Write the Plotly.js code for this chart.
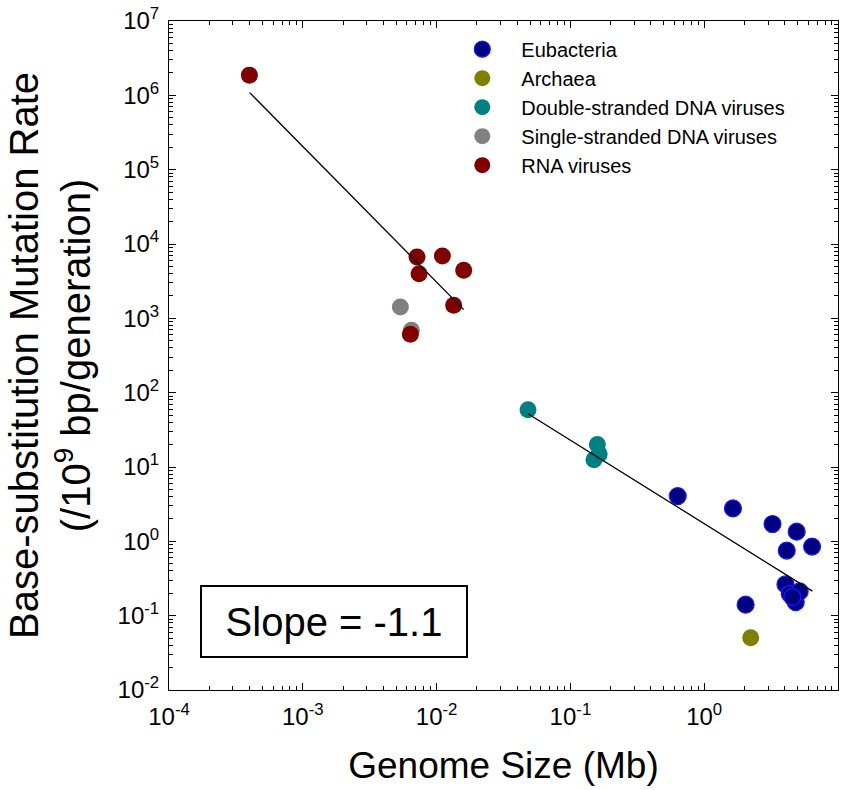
<!DOCTYPE html>
<html>
<head>
<meta charset="utf-8">
<script src="https://cdn.plot.ly/plotly-3.0.1.min.js"></script>
<style>
html,body{margin:0;padding:0;background:#fff;}
#chart{width:856px;height:790px;}
</style>
</head>
<body>
<div id="chart"></div>
<script>
// ---- Data (Genome size in Mb, mutation rate per 10^9 bp per generation) ----
const eubacteriaX = [0.634, 1.64, 3.24, 4.91, 6.40, 4.14, 2.04, 4.05, 4.36, 4.83, 5.17, 4.56];
const eubacteriaY = [4.06, 2.77, 1.71, 1.35, 0.85, 0.75, 0.1406, 0.2636, 0.197, 0.152, 0.212, 0.178];

const archaeaX = [2.226];
const archaeaY = [0.0505];

const dsDNAX = [0.0482, 0.159, 0.164, 0.150];
const dsDNAY = [59, 20.1, 14.8, 12.5];

const ssDNAX = [0.00536, 0.00648];
const ssDNAY = [1418, 689];

const rnaX = [0.000399, 0.00714, 0.01105, 0.00739, 0.01594, 0.01342, 0.00637];
const rnaY = [1.87e6, 6680, 6890, 3990, 4420, 1495, 609];

// regression lines (end points)
const fitRnaX = [0.000401, 0.01594];
const fitRnaY = [1.088e6, 1309];
const fitDnaX = [0.0482, 6.44];
const fitDnaY = [52.1, 0.2138];

const seriesNames = ["Eubacteria", "Archaea", "Double-stranded DNA viruses", "Single-stranded DNA viruses", "RNA viruses"];

const xTickVals = [1e-4, 1e-3, 1e-2, 1e-1, 1, 10];
const xTickText = ["10<sup>-4</sup>", "10<sup>-3</sup>", "10<sup>-2</sup>", "10<sup>-1</sup>", "10<sup>0</sup>", "10<sup>1</sup>"];
const yTickVals = [1e-2, 1e-1, 1, 10, 1e2, 1e3, 1e4, 1e5, 1e6, 1e7];
const yTickText = ["10<sup>-2</sup>", "10<sup>-1</sup>", "10<sup>0</sup>", "10<sup>1</sup>", "10<sup>2</sup>", "10<sup>3</sup>", "10<sup>4</sup>", "10<sup>5</sup>", "10<sup>6</sup>", "10<sup>7</sup>"];

// minor tick positions (2..9 x each decade)
function minorTicks(lo, hi) {
  const out = [];
  for (let e = lo; e < hi; e++) {
    for (let m = 2; m <= 9; m++) out.push(m * Math.pow(10, e));
  }
  return out;
}

const FONT = "Arial, 'Liberation Sans', Helvetica, sans-serif";
const MS = 17;

function pts(x, y, name, color, lineColor, lineWidth) {
  return {
    type: "scatter", mode: "markers", x: x, y: y, name: name,
    marker: {size: MS, color: color, line: {color: lineColor, width: lineWidth}},
    cliponaxis: false
  };
}

const traces = [
  pts(eubacteriaX, eubacteriaY, seriesNames[0], "#000080", "#1a1aff", 1.2),
  pts(archaeaX, archaeaY, seriesNames[1], "#808000", "#808000", 0),
  pts(dsDNAX, dsDNAY, seriesNames[2], "#008080", "#008080", 0),
  pts(ssDNAX, ssDNAY, seriesNames[3], "#808080", "#808080", 0),
  pts(rnaX, rnaY, seriesNames[4], "#800000", "#800000", 0),
  {type: "scatter", mode: "lines", x: fitRnaX, y: fitRnaY, showlegend: false,
   line: {color: "#000", width: 1.3}, hoverinfo: "skip"},
  {type: "scatter", mode: "lines", x: fitDnaX, y: fitDnaY, showlegend: false,
   line: {color: "#000", width: 1.3}, hoverinfo: "skip"}
];

const axisCommon = {
  type: "log",
  showgrid: false, zeroline: false,
  showline: true, linecolor: "#000", linewidth: 1,
  mirror: "ticks",
  ticks: "inside", ticklen: 7, tickwidth: 1, tickcolor: "#000",
  tickmode: "array",
  tickfont: {family: FONT, size: 24, color: "#000"}
};

const layout = {
  width: 856, height: 790,
  margin: {l: 169, r: 18, t: 21, b: 100},
  paper_bgcolor: "#fff", plot_bgcolor: "#fff",
  font: {family: FONT, color: "#000"},
  showlegend: true,
  legend: {
    x: 0.410, y: 0.987, xanchor: "left", yanchor: "top",
    bgcolor: "rgba(0,0,0,0)", borderwidth: 0,
    font: {family: FONT, size: 20, color: "#000"},
    itemwidth: 68, tracegroupgap: 0
  },
  xaxis: Object.assign({}, axisCommon, {
    range: [-4, 1],
    tickvals: xTickVals, ticktext: xTickText,
    ticklabelstandoff: 5,
    minor: {tickmode: "array", tickvals: minorTicks(-4, 1), ticks: "inside", ticklen: 4, tickcolor: "#000", showgrid: false},
    title: {text: "Genome Size (Mb)", font: {family: FONT, size: 37, color: "#000"}, standoff: 23}
  }),
  yaxis: Object.assign({}, axisCommon, {
    range: [-2, 7],
    tickvals: yTickVals, ticktext: yTickText,
    ticklabelstandoff: 4,
    minor: {tickmode: "array", tickvals: minorTicks(-2, 7), ticks: "inside", ticklen: 4, tickcolor: "#000", showgrid: false},
    title: {text: "Base-substitution Mutation Rate<br>(/10<sup>9</sup> bp/generation)", font: {family: FONT, size: 40, color: "#000"}, standoff: 14}
  }),
  annotations: [{
    xref: "paper", yref: "paper", x: 0.2459, y: 0.1022,
    xanchor: "center", yanchor: "middle",
    text: "Slope = -1.1", showarrow: false,
    font: {family: FONT, size: 40, color: "#000"},
    bordercolor: "#000", borderwidth: 2, borderpad: 0,
    width: 264, height: 69, align: "center", bgcolor: "#fff"
  }]
};

Plotly.newPlot("chart", traces, layout, {displayModeBar: false, staticPlot: true});
</script>
</body>
</html>
